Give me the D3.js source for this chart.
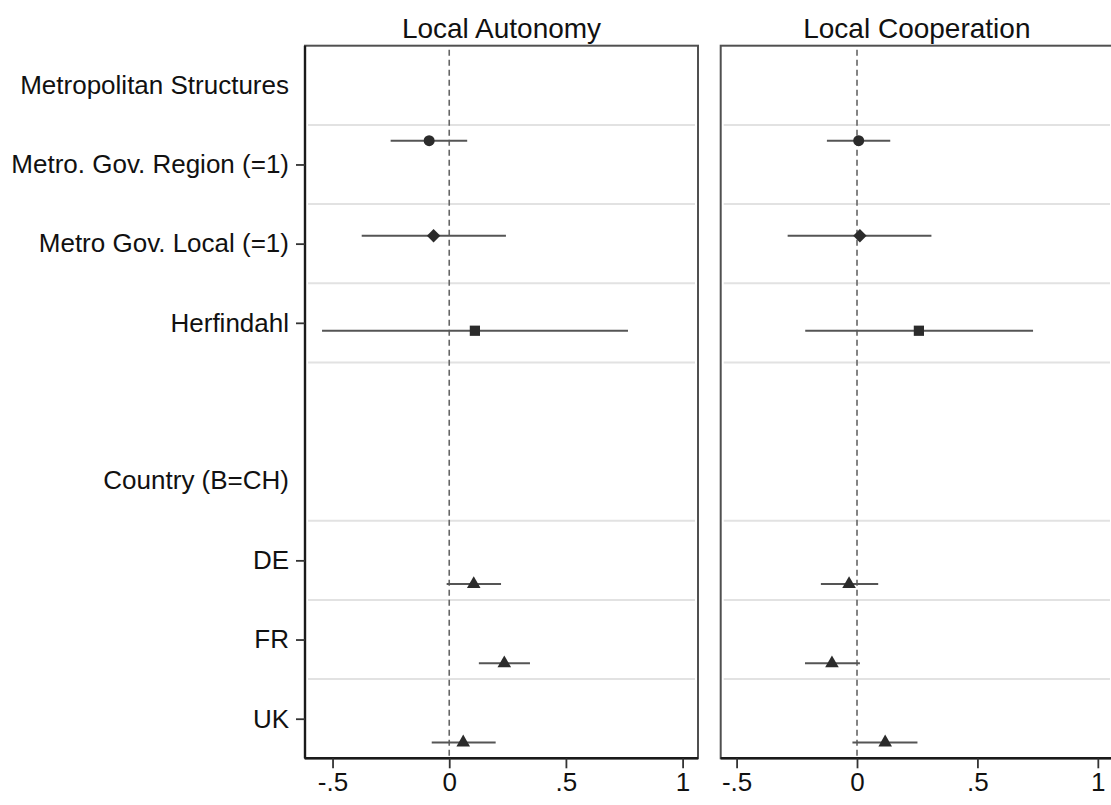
<!DOCTYPE html>
<html>
<head>
<meta charset="utf-8">
<script src="https://cdn.jsdelivr.net/npm/d3@7"></script>
<style>
  body { margin: 0; background: #fff; }
  text { font-family: "Liberation Sans", Arial, sans-serif; fill: #111; }
</style>
</head>
<body>
<div id="chart"></div>
<script>
// Row labels (top to bottom), header rows have no tick
const rowLabels = ["Metropolitan Structures", "Metro. Gov. Region (=1)", "Metro Gov. Local (=1)",
                   "Herfindahl", "", "Country (B=CH)", "DE", "FR", "UK"];
const headerRows = [0, 5];
const coefRows = [1, 2, 3, 6, 7, 8];
// model index -> marker symbol and vertical offset
const coefModel = [0, 1, 2, 3, 3, 3];

const panelTitles = ["Local Autonomy", "Local Cooperation"];
const xTicks = [-0.5, 0, 0.5, 1];
const xTickLabels = ["-.5", "0", ".5", "1"];

// estimates and confidence intervals
const autonomyEst = [-0.086, -0.067, 0.110, 0.105, 0.236, 0.060];
const autonomyLo  = [-0.251, -0.375, -0.545, -0.011, 0.127, -0.075];
const autonomyHi  = [0.077, 0.243, 0.766, 0.222, 0.346, 0.199];

const cooperationEst = [0.007, 0.012, 0.257, -0.033, -0.104, 0.117];
const cooperationLo  = [-0.125, -0.288, -0.215, -0.150, -0.216, -0.019];
const cooperationHi  = [0.138, 0.309, 0.731, 0.088, 0.012, 0.251];

const svgWidth = 1111;
const svgHeight = 805;
const plotTop = 45.7;
const plotBottom = 758.3;

const svg = d3.select("#chart")
  .append("svg")
  .attr("width", svgWidth)
  .attr("height", svgHeight);

// row index scale (boundaries at integers)
const yScale = d3.scaleLinear()
  .domain([0, rowLabels.length])
  .range([plotTop, plotBottom]);

const modelOffset = [-0.3, -0.1, 0.1, 0.3];
const symbols = [
  d3.symbol().type(d3.symbolCircle).size(95),
  d3.symbol().type(d3.symbolSquare).size(90),
  d3.symbol().type(d3.symbolSquare).size(105),
  d3.symbol().type(d3.symbolTriangle).size(80)
];

const panels = [
  { title: panelTitles[0], est: autonomyEst, lo: autonomyLo, hi: autonomyHi,
    domain: [-0.618, 1.066], range: [305, 698], axis: true },
  { title: panelTitles[1], est: cooperationEst, lo: cooperationLo, hi: cooperationHi,
    domain: [-0.566, 1.063], range: [720.7, 1113], axis: false }
];

const gridRows = [1, 2, 3, 4, 6, 7, 8];
const fontSize = "26px";

panels.forEach(function(p) {
  const xScale = d3.scaleLinear().domain(p.domain).range(p.range);
  const g = svg.append("g");

  // gridlines
  g.selectAll(".grid")
    .data(gridRows)
    .enter().append("line")
    .attr("x1", p.range[0] + 3)
    .attr("x2", p.range[1] - 3)
    .attr("y1", d => yScale(d))
    .attr("y2", d => yScale(d))
    .attr("stroke", "#e2e2e2")
    .attr("stroke-width", 2);

  // frame
  g.append("rect")
    .attr("x", p.range[0])
    .attr("y", plotTop)
    .attr("width", p.range[1] - p.range[0])
    .attr("height", plotBottom - plotTop)
    .attr("fill", "none")
    .attr("stroke", "#505050")
    .attr("stroke-width", 2);

  // zero line
  g.append("line")
    .attr("x1", xScale(0)).attr("x2", xScale(0))
    .attr("y1", plotTop + 4).attr("y2", plotBottom)
    .attr("stroke", "#666")
    .attr("stroke-width", 1.6)
    .attr("stroke-dasharray", "6,4");

  // confidence intervals
  g.selectAll(".ci")
    .data(coefRows)
    .enter().append("line")
    .attr("x1", (d, i) => xScale(p.lo[i]))
    .attr("x2", (d, i) => xScale(p.hi[i]))
    .attr("y1", (d, i) => yScale(d + 0.5 + modelOffset[coefModel[i]]))
    .attr("y2", (d, i) => yScale(d + 0.5 + modelOffset[coefModel[i]]))
    .attr("stroke", "#555")
    .attr("stroke-width", 2);

  // point estimates
  g.selectAll(".pt")
    .data(coefRows)
    .enter().append("path")
    .attr("d", (d, i) => symbols[coefModel[i]]())
    .attr("transform", (d, i) => {
      const rot = coefModel[i] === 1 ? " rotate(45)" : "";
      return `translate(${xScale(p.est[i])},${yScale(d + 0.5 + modelOffset[coefModel[i]])})${rot}`;
    })
    .attr("fill", "#2b2b2b");

  // x axis
  const bottomAxis = d3.axisBottom(xScale)
    .tickValues(xTicks)
    .tickFormat((d, i) => xTickLabels[i])
    .tickSize(10)
    .tickPadding(4);
  const xAxis = g.append("g")
    .attr("transform", `translate(0, ${plotBottom})`)
    .call(bottomAxis);
  xAxis.select(".domain")
    .attr("stroke", "#1a1a1a")
    .attr("stroke-width", 2.4)
    .attr("d", `M${p.range[0]},0H${p.range[1]}`);
  xAxis.selectAll(".tick line").attr("stroke", "#333").attr("stroke-width", 1.8);
  xAxis.selectAll(".tick text")
    .style("font-family", '"Liberation Sans", Arial, sans-serif')
    .style("font-size", fontSize)
    .attr("fill", "#111")
    .attr("dy", "0.72em");

  // panel title
  g.append("text")
    .attr("x", (p.range[0] + p.range[1]) / 2)
    .attr("y", 38)
    .attr("text-anchor", "middle")
    .style("font-size", "28px")
    .text(p.title);

  if (p.axis) {
    const leftAxis = d3.axisLeft(yScale)
      .tickValues(coefRows.map(r => r + 0.5))
      .tickFormat(d => rowLabels[Math.floor(d)])
      .tickSize(9)
      .tickPadding(7);
    const yAxis = g.append("g")
      .attr("transform", `translate(${p.range[0]}, 0)`)
      .call(leftAxis);
    yAxis.select(".domain")
      .attr("stroke", "#1a1a1a")
      .attr("stroke-width", 2.4)
      .attr("d", `M0,${plotTop}V${plotBottom}`);
    yAxis.selectAll(".tick line").attr("stroke", "#333").attr("stroke-width", 1.8);
    yAxis.selectAll(".tick text")
      .style("font-family", '"Liberation Sans", Arial, sans-serif')
      .style("font-size", fontSize)
      .attr("fill", "#111");

    // group headers (no ticks)
    g.selectAll(".hdr")
      .data(headerRows)
      .enter().append("text")
      .attr("x", p.range[0] - 16)
      .attr("y", d => yScale(d + 0.5))
      .attr("dy", "0.32em")
      .attr("text-anchor", "end")
      .style("font-size", fontSize)
      .text(d => rowLabels[d]);
  }
});
</script>
</body>
</html>
